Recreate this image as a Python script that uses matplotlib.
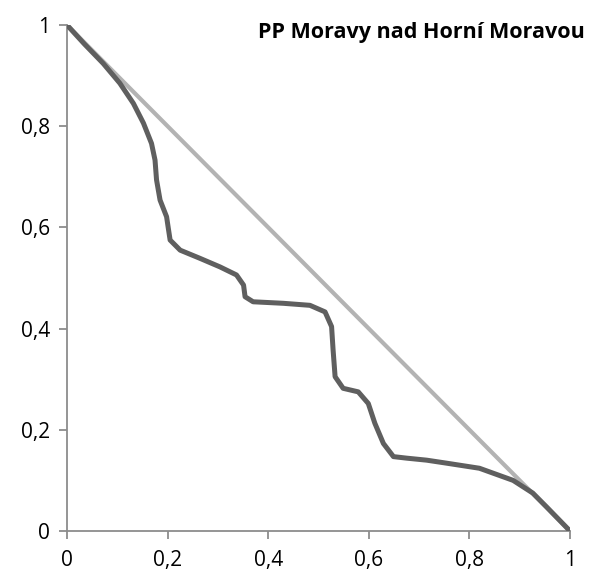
import matplotlib
matplotlib.use("Agg")
import matplotlib.pyplot as plt
import numpy as np

plt.rcParams['font.family'] = ['Open Sans', 'DejaVu Sans']

# curve
pp_x = [0, 0.035, 0.072, 0.105, 0.132, 0.152, 0.168, 0.175, 0.178, 0.185,
        0.198, 0.201, 0.205, 0.225, 0.264, 0.304, 0.337, 0.351, 0.354, 0.370,
        0.430, 0.483, 0.513, 0.526, 0.529, 0.533, 0.549, 0.579, 0.599, 0.612,
        0.629, 0.649, 0.675, 0.715, 0.755, 0.82, 0.887, 0.926, 0.954, 1]
pp_y = [1, 0.962, 0.924, 0.885, 0.845, 0.806, 0.766, 0.733, 0.694, 0.654,
        0.621, 0.601, 0.575, 0.555, 0.539, 0.522, 0.506, 0.486, 0.463, 0.453,
        0.450, 0.446, 0.433, 0.404, 0.358, 0.305, 0.282, 0.275, 0.252, 0.213,
        0.173, 0.147, 0.144, 0.140, 0.134, 0.124, 0.100, 0.075, 0.047, 0]
diag = [1, 0]
ticks = [0, 0.2, 0.4, 0.6, 0.8, 1]
tick_labels = ["0", "0,2", "0,4", "0,6", "0,8", "1"]

fig = plt.figure(figsize=(5.92, 5.79), dpi=100)
ax = fig.add_axes([67/592, 48/579, 503/592, 506/579])

ax.plot([0, 1], diag, color="#b3b3b3", lw=3.0, solid_capstyle="round", zorder=2)
ax.plot(pp_x, pp_y, color="#5f5f5f", lw=3.6, solid_capstyle="round",
        solid_joinstyle="round", zorder=3)

ax.set_xlim(0, 1)
ax.set_ylim(0, 1)
ax.set_xticks(ticks)
ax.set_xticklabels(tick_labels)
ax.set_yticks(ticks)
ax.set_yticklabels(tick_labels)
for s in ["top", "right"]:
    ax.spines[s].set_visible(False)
for s in ["left", "bottom"]:
    ax.spines[s].set_color("#8c8c8c")
    ax.spines[s].set_linewidth(1.3)
ax.tick_params(length=6, width=1.3, color="#8c8c8c", labelsize=15)
ax.tick_params(axis="x", pad=8)
ax.tick_params(axis="y", pad=6)
ax.patch.set_visible(False)

ax.text(1.03, 0.985, "PP Moravy nad Horní Moravou", transform=ax.transAxes,
        ha="right", va="center", fontsize=15.5, fontweight="bold")

fig.savefig("out.png", dpi=100)
